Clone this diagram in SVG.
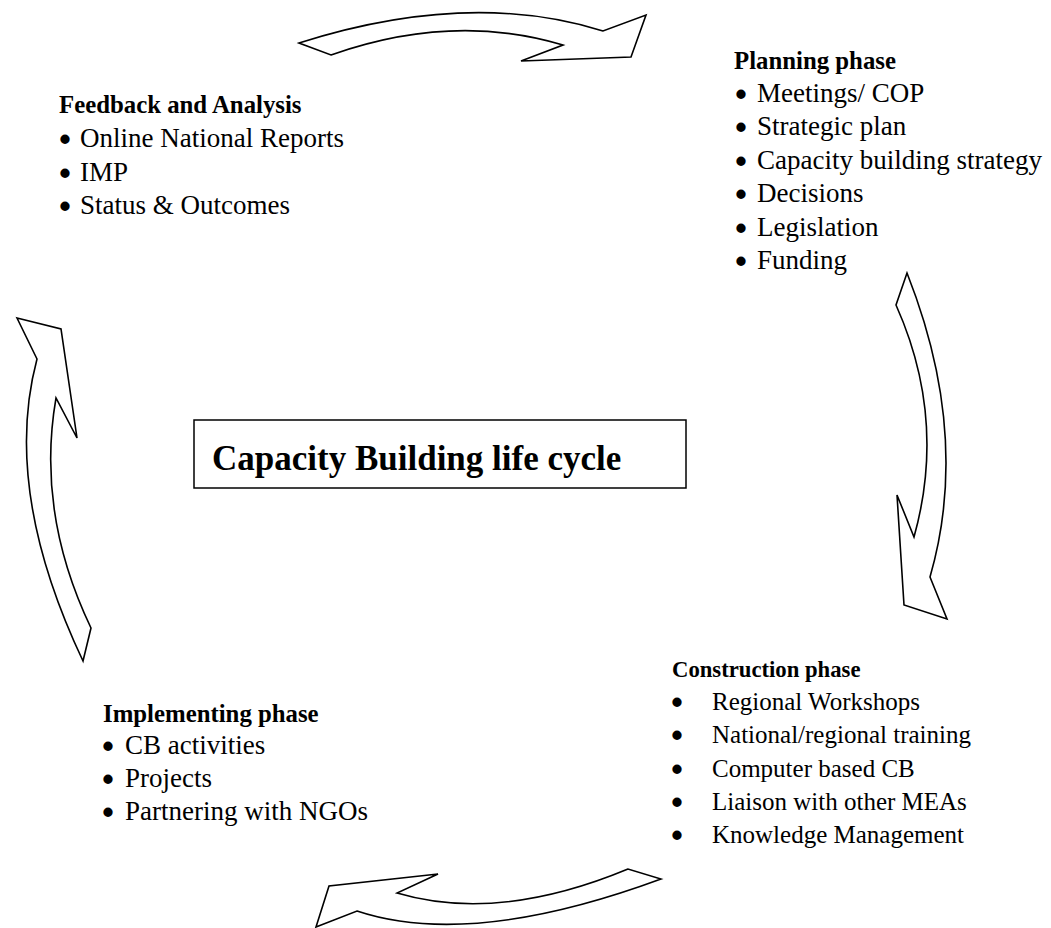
<svg xmlns="http://www.w3.org/2000/svg" width="1051" height="928" viewBox="0 0 1051 928">
<style>
text{font-family:"Liberation Serif","Times New Roman",serif;fill:#000}
.h{font-weight:bold;font-size:24.8px}
.b{font-size:27px}
.d{font-size:27px;stroke:#000;stroke-width:2.8}
.t{font-weight:bold;font-size:35px}
.arr{fill:#fff;stroke:#000;stroke-width:1.6;stroke-linejoin:miter}
</style>
<rect width="1051" height="928" fill="#fff"/>
<g id="connectors">
<path class="arr" d="M299 43 Q469 -11 603 31 L646 15 L631 57 L521 61 L563 45 Q453 12 331 55 Z"/>
<path class="arr" d="M907 273 Q971 435 930 577 L947 619 L904 605 L897 495 L914 537 Q947 419 896 305 Z"/>
<path class="arr" d="M17 318 L61 329 L77 438 L56 398 Q36 513 91 628 L83 661 Q2 490 37 359 Z"/>
<path class="arr" d="M628 869 Q498 923 397 893 L438 874 L329 886 L316 927 L357 911 Q471 949 661 879 Z"/>
</g>
<g id="title">
<rect x="194" y="420" width="492" height="68" fill="#fff" stroke="#000" stroke-width="1.5"/>
<text class="t" x="212" y="470">Capacity Building life cycle</text>
</g>
<g id="feedback">
<text class="h" x="59" y="113">Feedback and Analysis</text>
<text class="d" x="60.3" y="149">•</text><text class="b" x="80" y="147">Online National Reports</text>
<text class="d" x="60.3" y="183">•</text><text class="b" x="80" y="181">IMP</text>
<text class="d" x="60.3" y="216">•</text><text class="b" x="80" y="214">Status &amp; Outcomes</text>
</g>
<g id="planning">
<text class="h" x="734" y="69">Planning phase</text>
<text class="d" x="736.3" y="104">•</text><text class="b" x="757" y="102">Meetings/ COP</text>
<text class="d" x="736.3" y="137">•</text><text class="b" x="757" y="135">Strategic plan</text>
<text class="d" x="736.3" y="171">•</text><text class="b" x="757" y="169">Capacity building strategy</text>
<text class="d" x="736.3" y="204">•</text><text class="b" x="757" y="202">Decisions</text>
<text class="d" x="736.3" y="238">•</text><text class="b" x="757" y="236">Legislation</text>
<text class="d" x="736.3" y="271">•</text><text class="b" x="757" y="269">Funding</text>
</g>
<g id="construction">
<text class="h" x="672" y="677" style="font-size:22.7px">Construction phase</text>
<g style="font-size:25px">
<text class="d" x="672.3" y="712">•</text><text x="712" y="710">Regional Workshops</text>
<text class="d" x="672.3" y="745">•</text><text x="712" y="743">National/regional training</text>
<text class="d" x="672.3" y="779">•</text><text x="712" y="777">Computer based CB</text>
<text class="d" x="672.3" y="812">•</text><text x="712" y="810">Liaison with other MEAs</text>
<text class="d" x="672.3" y="845">•</text><text x="712" y="843">Knowledge Management</text>
</g>
</g>
<g id="implementing">
<text class="h" x="103" y="722">Implementing phase</text>
<text class="d" x="103.3" y="756">•</text><text class="b" x="125" y="754">CB activities</text>
<text class="d" x="103.3" y="789">•</text><text class="b" x="125" y="787">Projects</text>
<text class="d" x="103.3" y="822">•</text><text class="b" x="125" y="820">Partnering with NGOs</text>
</g>
</svg>
